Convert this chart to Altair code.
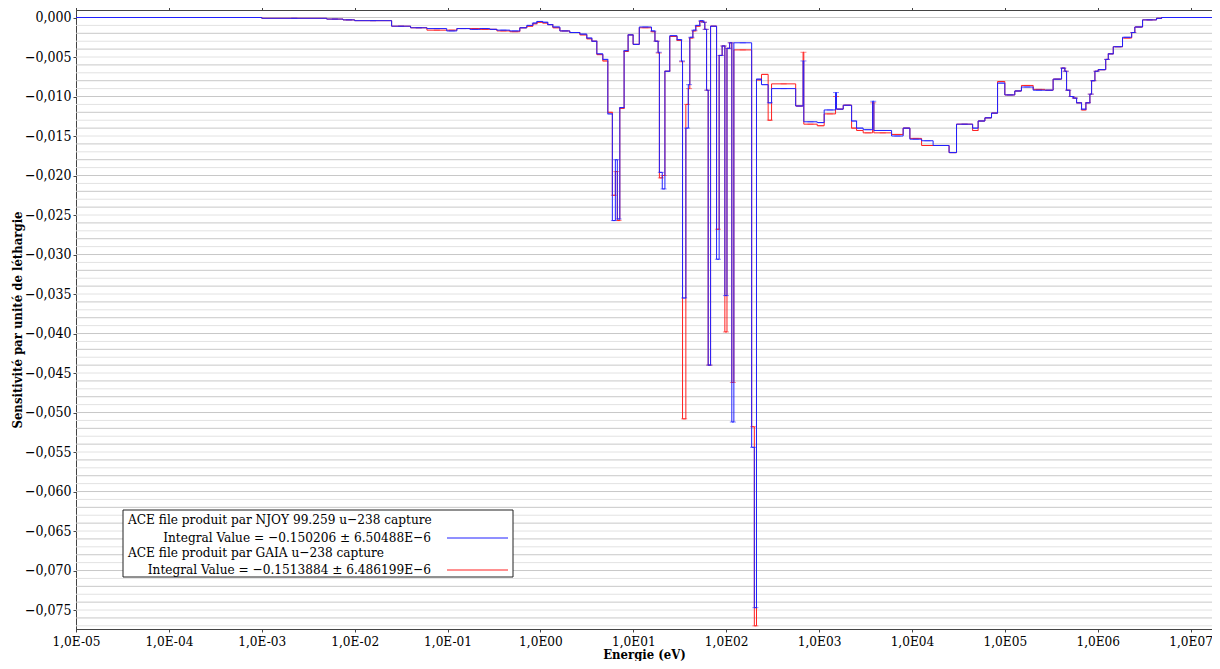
import altair as alt
import pandas as pd
import numpy as np

# Energy group lower bounds (eV) and sensitivity per unit lethargy
ENERGY = [1e-5, 1.0e-3, 5.0e-3, 7.5e-3, 1.0e-2, 2.5e-2, 4.0e-2, 6.0e-2, 0.098, 0.126,
          0.174, 0.223, 0.285, 0.34, 0.469, 0.60, 0.714, 0.83, 0.914, 1.06,
          1.2, 1.36, 1.62, 2.07, 2.66, 3.16, 3.58, 4.05, 4.7, 5.32,
          5.95, 6.41, 6.73, 7.16, 7.96, 8.79, 9.95, 11.6, 15.7, 17.1,
          18.5, 19.1, 20.5, 21.9, 24.7, 29.6, 33.0, 33.9, 36.8, 39.1,
          40.6, 43.8, 47.1, 52.0, 56.5, 58.9, 61.5, 64.0, 67.9, 78.8,
          84.0, 90.5, 96.8, 102, 109, 115, 121, 188, 201, 212,
          240, 283, 308, 560, 673, 685, 955, 1135, 1505, 1540,
          1820, 2240, 2535, 2985, 3770, 3890, 6040, 8040, 9500, 12700,
          16900, 25100, 30200, 45000, 51600, 61000, 71900, 83500, 1.0e5, 1.28e5,
          1.51e5, 2.02e5, 2.70e5, 3.31e5, 4.08e5, 4.43e5, 4.62e5, 5.01e5, 5.45e5, 5.92e5,
          6.70e5, 7.46e5, 8.24e5, 8.59e5, 9.33e5, 1.01e6, 1.22e6, 1.30e6, 1.47e6, 1.85e6,
          2.32e6, 2.51e6, 3.04e6, 4.3e6, 4.87e6, 2.0e7]

NJOY = [0.0, -0.0001, -0.0002, -0.0003, -0.0004, -0.0011, -0.0013, -0.0014, -0.0017, -0.0014,
        -0.0015, -0.0014, -0.0015, -0.0016, -0.0017, -0.0013, -0.0010, -0.0007, -0.0005, -0.0006,
        -0.0009, -0.0012, -0.0017, -0.0019, -0.0021, -0.0026, -0.0030, -0.0046, -0.0053, -0.0122,
        -0.0257, -0.0180, -0.0255, -0.0114, -0.0042, -0.0022, -0.0034, -0.0012, -0.0017, -0.0030,
        -0.0044, -0.0196, -0.0217, -0.0068, -0.0023, -0.0028, -0.0055, -0.0355, -0.0140, -0.0085,
        -0.0025, -0.0016, -0.0010, -0.0004, -0.0006, -0.0015, -0.0092, -0.0440, -0.0011, -0.0306,
        -0.0048, -0.0036, -0.0352, -0.0039, -0.0032, -0.0512, -0.0032, -0.0544, -0.0747, -0.0078,
        -0.0085, -0.0108, -0.0090, -0.0112, -0.0055, -0.0132, -0.0133, -0.0117, -0.0095, -0.0116,
        -0.0111, -0.0131, -0.0140, -0.0142, -0.0106, -0.0143, -0.0150, -0.0140, -0.0154, -0.0156,
        -0.0162, -0.0171, -0.0135, -0.0140, -0.0131, -0.0127, -0.0121, -0.0083, -0.0098, -0.0093,
        -0.0088, -0.0092, -0.0092, -0.0078, -0.0064, -0.0068, -0.0092, -0.0100, -0.0102, -0.0108,
        -0.0116, -0.0108, -0.0097, -0.0080, -0.0068, -0.0066, -0.0053, -0.0046, -0.0037, -0.0025,
        -0.0019, -0.0012, -0.0003, -0.0001, 0.0, 0.0]

GAIA = [0.0, -0.0001, -0.0002, -0.0003, -0.0004, -0.0011, -0.0013, -0.0016, -0.0016, -0.0014,
        -0.0014, -0.0015, -0.0015, -0.0017, -0.0018, -0.0013, -0.0011, -0.0008, -0.0006, -0.0007,
        -0.0009, -0.0013, -0.0017, -0.0019, -0.0022, -0.0027, -0.0030, -0.0047, -0.0055, -0.0120,
        -0.0225, -0.0195, -0.0257, -0.0115, -0.0043, -0.0022, -0.0034, -0.0013, -0.0018, -0.0030,
        -0.0045, -0.0203, -0.0200, -0.0068, -0.0024, -0.0029, -0.0056, -0.0508, -0.0110, -0.0090,
        -0.0026, -0.0017, -0.0011, -0.0005, -0.0006, -0.0015, -0.0092, -0.0440, -0.0011, -0.0268,
        -0.0048, -0.0036, -0.0398, -0.0039, -0.0032, -0.0462, -0.0041, -0.0518, -0.0770, -0.0079,
        -0.0072, -0.0130, -0.0084, -0.0112, -0.0044, -0.0135, -0.0137, -0.0122, -0.0100, -0.0116,
        -0.0111, -0.0140, -0.0143, -0.0146, -0.0108, -0.0146, -0.0148, -0.0140, -0.0153, -0.0162,
        -0.0162, -0.0171, -0.0135, -0.0143, -0.0131, -0.0127, -0.0121, -0.0081, -0.0098, -0.0093,
        -0.0086, -0.0091, -0.0092, -0.0078, -0.0064, -0.0068, -0.0092, -0.0100, -0.0102, -0.0108,
        -0.0117, -0.0108, -0.0097, -0.0080, -0.0068, -0.0066, -0.0053, -0.0046, -0.0037, -0.0026,
        -0.0019, -0.0012, -0.0003, -0.0001, 0.0, 0.0]

assert len(ENERGY) == len(NJOY) == len(GAIA)

X_TICKS = [1e-5, 1e-4, 1e-3, 1e-2, 1e-1, 1e0, 1e1, 1e2, 1e3, 1e4, 1e5, 1e6, 1e7]
Y_TICKS = [round(-0.005 * i, 3) for i in range(16)]
GRID = [round(-0.001 * i, 3) for i in range(78)]

LEGEND_LINES = [
    "ACE file produit par NJOY 99.259 u\u2212238 capture",
    "Integral Value = \u22120.150206 \u00b1 6.50488E\u22126",
    "ACE file produit par GAIA u\u2212238 capture",
    "Integral Value = \u22120.1513884 \u00b1 6.486199E\u22126",
]

BLUE_C = "#2020ff"
RED_C = "#ff2020"
FONT = "DejaVu Serif Condensed, Liberation Serif, serif"
W, H = 1136, 619

xs = alt.Scale(type="log", domain=[1e-5, 1.7e7], nice=False)
ys = alt.Scale(domain=[-0.0774, 0.00095], nice=False, zero=False)

x_label = ("'1,0E' + (datum.value < 1 ? '-' : '') + "
           "(abs(round(log(datum.value)/LN10)) < 10 ? '0' : '') + "
           "abs(round(log(datum.value)/LN10))")
y_label = "replace(format(datum.value, '.3f'), '.', ',')"

df_grid = pd.DataFrame({"g": GRID, "k": [i % 2 for i in range(len(GRID))]})
grid = alt.Chart(df_grid).mark_rule(strokeWidth=1).encode(
    y=alt.Y("g:Q", scale=ys, axis=alt.Axis(orient="right", values=Y_TICKS,
                                          labels=False, title=None, tickSize=3,
                                          domain=False, grid=False, tickColor="#444")),
    color=alt.Color("k:N", scale=alt.Scale(domain=[0, 1], range=["#c8c8c8", "#e2e2e2"]),
                    legend=None),
)

df_n = pd.DataFrame({"E": ENERGY, "S": NJOY})
df_g = pd.DataFrame({"E": ENERGY, "S": GAIA})

# group centres for error-bar caps
centres = [float(np.sqrt(ENERGY[i] * ENERGY[i + 1])) for i in range(len(ENERGY) - 1)]
df_cn = pd.DataFrame({"E": centres, "S": NJOY[:-1]})
df_cg = pd.DataFrame({"E": centres, "S": GAIA[:-1]})

top_axis = alt.Chart(df_n).mark_point(opacity=0).encode(
    x=alt.X("E:Q", scale=xs, axis=alt.Axis(orient="top", values=X_TICKS,
                                          labels=False, title=None, tickSize=3,
                                          domain=False, grid=False, tickColor="#444")),
    y=alt.Y("S:Q", scale=ys, axis=None),
)

red = alt.Chart(df_g).mark_line(interpolate="step-after", color=RED_C,
                                strokeWidth=1, clip=True).encode(
    x=alt.X("E:Q", scale=xs,
            axis=alt.Axis(values=X_TICKS, labelExpr=x_label, title="Energie (eV)",
                          grid=False, tickSize=3, labelFont=FONT, labelFontSize=13.5,
                          labelFlush=False, labelOverlap=False,
                          titleFont=FONT, titleFontSize=13, titleFontWeight="bold",
                          labelColor="black", titleColor="black", domainColor="#444",
                          tickColor="#444", labelPadding=2, titlePadding=1)),
    y=alt.Y("S:Q", scale=ys,
            axis=alt.Axis(values=Y_TICKS, labelExpr=y_label,
                          title="Sensitivit\u00e9 par unit\u00e9 de l\u00e9thargie",
                          grid=False, tickSize=3, labelFont=FONT, labelFontSize=14,
                          labelFlush=False, labelOverlap=False,
                          titleFont=FONT, titleFontSize=13, titleFontWeight="bold",
                          labelColor="black", titleColor="black", domainColor="#444",
                          tickColor="#444", labelPadding=2, titlePadding=0)),
)

blue = alt.Chart(df_n).mark_line(interpolate="step-after", color=BLUE_C,
                                 strokeWidth=1, clip=True).encode(
    x=alt.X("E:Q", scale=xs, axis=None), y=alt.Y("S:Q", scale=ys, axis=None))

def caps(df, color):
    return alt.Chart(df).mark_tick(orient="horizontal", size=6, thickness=1,
                                   color=color, opacity=0.55, clip=True).encode(
        x=alt.X("E:Q", scale=xs, axis=None), y=alt.Y("S:Q", scale=ys, axis=None))

# legend box drawn manually
box = alt.Chart(pd.DataFrame({"a": [0]})).mark_rect(
    fill="white", stroke="#222", strokeWidth=1).encode(
    x=alt.value(47), x2=alt.value(437), y=alt.value(500), y2=alt.value(567))

def txt(i, x, y, align):
    return alt.Chart(pd.DataFrame({"t": [LEGEND_LINES[i]]})).mark_text(
        align=align, baseline="middle", font=FONT, fontSize=13.5, color="black").encode(
        text="t:N", x=alt.value(x), y=alt.value(y))

texts = [txt(0, 52, 510, "left"), txt(1, 355, 528, "right"),
         txt(2, 52, 543, "left"), txt(3, 355, 560, "right")]

def sample(color, y):
    return alt.Chart(pd.DataFrame({"a": [0]})).mark_rule(color=color, strokeWidth=1).encode(
        x=alt.value(371), x2=alt.value(432), y=alt.value(y))

chart = alt.layer(grid, top_axis, red, caps(df_cg, RED_C), blue, caps(df_cn, BLUE_C),
                  box, *texts, sample(BLUE_C, 528), sample(RED_C, 560)).resolve_axis(
    x="independent", y="independent").properties(
    width=W, height=H,
    autosize=alt.AutoSizeParams(type="none"),
    padding={"left": 68, "top": 2, "right": 0, "bottom": 32},
).configure_view(stroke="#444", strokeWidth=1).configure_axis(
    labelFont=FONT, titleFont=FONT)

chart.save("out.html", embed_options={"renderer": "svg", "actions": False})
